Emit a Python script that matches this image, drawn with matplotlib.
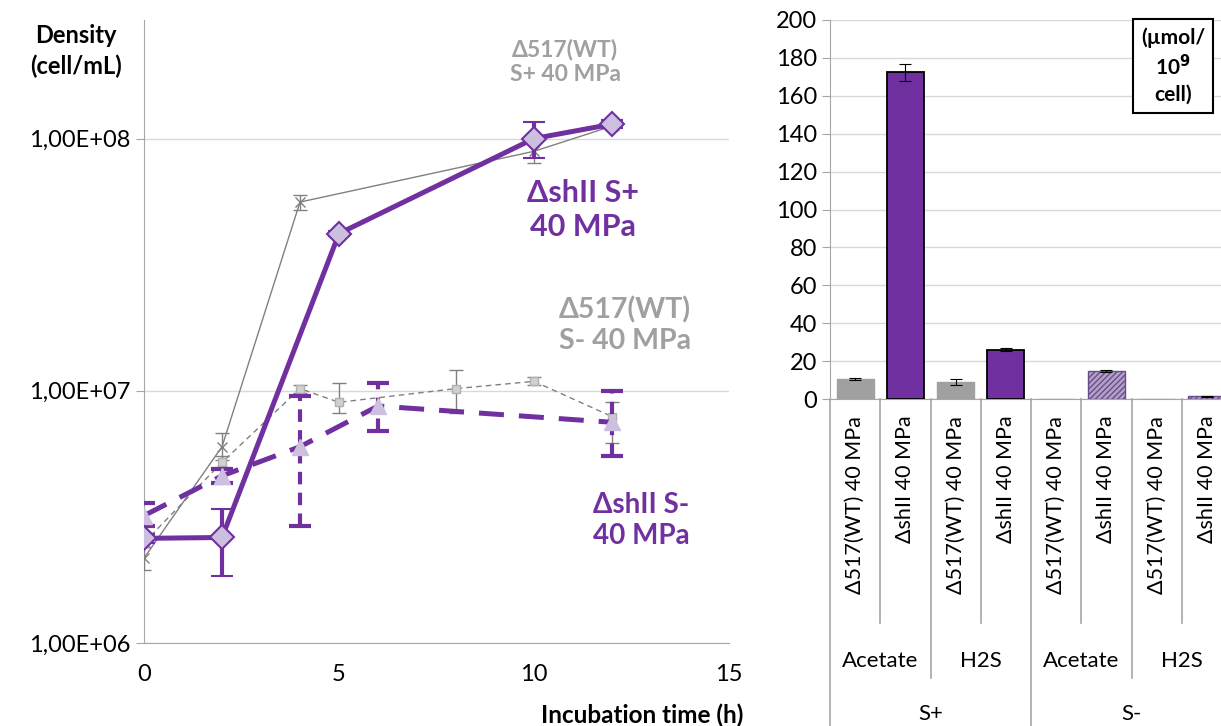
import numpy as np
import matplotlib
matplotlib.use("Agg")
import matplotlib.pyplot as plt
import matplotlib.transforms as mtrans
from matplotlib.ticker import FixedLocator, FixedFormatter, NullLocator

plt.rcParams['font.family'] = ['Lato', 'DejaVu Sans']

# growth curves (cells/mL)
t_wt_sp = [0, 2, 4, 10, 12]
wt_sp = [2.17e6, 6.0e6, 5.6e7, 8.9e7, 1.12e8]
wt_sp_lo = [1.95e6, 5.3e6, 5.2e7, 8.0e7, 1.08e8]
wt_sp_hi = [2.4e6, 6.8e6, 5.95e7, 9.7e7, 1.16e8]

t_sh_sp = [0, 2, 5, 10, 12]
sh_sp = [2.6e6, 2.62e6, 4.2e7, 1.0e8, 1.14e8]
sh_sp_lo = [2.5e6, 1.85e6, 4.1e7, 8.4e7, 1.1e8]
sh_sp_hi = [2.7e6, 3.4e6, 4.3e7, 1.16e8, 1.18e8]

t_wt_sm = [0, 2, 4, 5, 8, 10, 12]
wt_sm = [2.5e6, 5.2e6, 1.02e7, 9.0e6, 1.02e7, 1.09e7, 7.9e6]
wt_sm_lo = [2.4e6, 5.0e6, 9.8e6, 8.2e6, 8.2e6, 1.05e7, 6.2e6]
wt_sm_hi = [2.6e6, 5.5e6, 1.05e7, 1.07e7, 1.21e7, 1.13e7, 9.0e6]

t_sh_sm = [0, 2, 4, 6, 12]
sh_sm = [3.2e6, 4.6e6, 6.0e6, 8.7e6, 7.5e6]
sh_sm_lo = [2.9e6, 4.3e6, 2.9e6, 6.9e6, 5.5e6]
sh_sm_hi = [3.6e6, 4.9e6, 9.5e6, 1.07e7, 1.0e7]

# metabolite production (umol / 1e9 cells)
bar_labels = ["Δ517(WT) 40 MPa", "ΔshII 40 MPa"] * 4
bar_vals = [10.5, 172.5, 9.0, 26.0, 0.0, 15.0, 0.0, 1.5]
bar_err = [0.4, 4.5, 1.5, 0.8, 0.0, 0.5, 0.0, 0.3]
compounds = ["Acetate", "H2S", "Acetate", "H2S"]
conditions = ["S+", "S-"]

purple = "#7030A0"
lilac = "#CDBFE0"
grey = "#808080"
lgrey = "#A0A0A0"

W, H = 1221, 726
fig = plt.figure(figsize=(W / 100, H / 100), dpi=100)


def err(v, lo, hi):
    v = np.array(v)
    return [v - np.array(lo), np.array(hi) - v]


ax = fig.add_axes([144 / W, (H - 643) / H, 585 / W, 623 / H])
ax.set_yscale("log")
ax.set_xlim(0, 15)
ax.set_ylim(1e6, 10 ** 8.47)

ax.errorbar(t_wt_sp, wt_sp, yerr=err(wt_sp, wt_sp_lo, wt_sp_hi), color=grey, lw=1,
            marker="x", ms=7, mec=grey, ecolor=grey, elinewidth=1, capsize=5, zorder=3)
ax.errorbar(t_wt_sm, wt_sm, yerr=err(wt_sm, wt_sm_lo, wt_sm_hi), color=grey, lw=1, ls=(0, (4, 3)),
            marker="s", ms=6, mfc="#D0D0D0", mec="#B0B0B0", ecolor=grey, elinewidth=1, capsize=5, zorder=3)
e1 = ax.errorbar(t_sh_sm, sh_sm, yerr=err(sh_sm, sh_sm_lo, sh_sm_hi), color=purple, lw=3.6, ls=(0, (5, 3)),
                 marker="^", ms=12, mfc=lilac, mec=lilac, ecolor=purple, elinewidth=3, capsize=8,
                 capthick=3, zorder=4)
e1[2][0].set_linestyle((0, (3, 2)))
ax.errorbar(t_sh_sp, sh_sp, yerr=err(sh_sp, sh_sp_lo, sh_sp_hi), color=purple, lw=3.6,
            marker="D", ms=12, mfc=lilac, mec=purple, mew=1.5, ecolor=purple, elinewidth=3, capsize=8,
            capthick=3, zorder=5)

for s in ["top", "right"]:
    ax.spines[s].set_visible(False)
for s in ["left", "bottom"]:
    ax.spines[s].set_color("#A6A6A6")
ax.yaxis.set_major_locator(FixedLocator([1e6, 1e7, 1e8]))
ax.yaxis.set_major_formatter(FixedFormatter(["1,00E+06", "1,00E+07", "1,00E+08"]))
ax.yaxis.set_minor_locator(NullLocator())
ax.set_xticks([0, 5, 10, 15])
ax.tick_params(axis="x", length=0, labelsize=17, pad=15)
ax.tick_params(axis="y", length=6, color="#A6A6A6", labelsize=17)
ax.grid(axis="y", color="#D9D9D9", lw=1)
ax.set_axisbelow(True)

ax.text(0.7197, 0.9326, "Δ517(WT)\nS+ 40 MPa", transform=ax.transAxes, ha="center", va="center",
        color=lgrey, fontsize=16.5, fontweight="bold", linespacing=1.25)
ax.text(0.750, 0.695, "ΔshII S+\n40 MPa", transform=ax.transAxes, ha="center", va="center",
        color=purple, fontsize=22, fontweight="bold", linespacing=1.25)
ax.text(0.822, 0.510, "Δ517(WT)\nS- 40 MPa", transform=ax.transAxes, ha="center", va="center",
        color=lgrey, fontsize=20.5, fontweight="bold", linespacing=1.25)
ax.text(0.850, 0.197, "ΔshII S-\n40 MPa", transform=ax.transAxes, ha="center", va="center",
        color=purple, fontsize=20, fontweight="bold", linespacing=1.25)
fig.text(76 / W, 1 - 51 / H, "Density\n(cell/mL)", ha="center", va="center", fontsize=17,
         fontweight="bold", linespacing=1.35)
fig.text(743 / W, 1 - 715 / H, "Incubation time (h)", ha="right", va="center", fontsize=17.5,
         fontweight="bold")

# bar chart
bx = fig.add_axes([830 / W, (H - 399) / H, 402 / W, 379 / H])
x = np.arange(len(bar_vals))
styles = [
    dict(color=lgrey, edgecolor=lgrey),
    dict(color=purple, edgecolor="black", linewidth=1.3),
] * 2 + [
    dict(color=lgrey, edgecolor=lgrey),
    dict(color="#B3A2C7", edgecolor="#6A4C8C", hatch="//////", linewidth=1),
    dict(color=lgrey, edgecolor=lgrey),
    dict(color="#B3A2C7", edgecolor="#6A4C8C", hatch="//////", linewidth=1),
]
for i in range(len(bar_vals)):
    bx.bar(x[i], bar_vals[i], width=0.74, zorder=3, **styles[i])
    if bar_vals[i] > 0:
        bx.errorbar(x[i], bar_vals[i], yerr=bar_err[i], color="black", lw=0.8, capsize=4,
                    capthick=0.8, zorder=4)
bx.set_xlim(-0.5, 7.5)
bx.set_ylim(0, 200)
bx.set_yticks(np.arange(0, 201, 20))
bx.tick_params(axis="y", length=6, color="#A6A6A6", labelsize=17)
bx.grid(axis="y", color="#D9D9D9", lw=1)
bx.set_axisbelow(True)
for s in ["top", "right"]:
    bx.spines[s].set_visible(False)
for s in ["left", "bottom"]:
    bx.spines[s].set_color("#A6A6A6")
bx.set_xticks(x)
bx.set_xticklabels(bar_labels, rotation=90, fontsize=15.5)
bx.tick_params(axis="x", length=0, pad=12)

tr = mtrans.blended_transform_factory(bx.transData, bx.transAxes)
sep_short = -(623 - 399) / 379
sep_mid = -(678 - 399) / 379
sep_long = -(740 - 399) / 379
for i in range(9):
    xs = i - 0.5
    if i % 4 == 0:
        y0 = sep_long
    elif i % 2 == 0:
        y0 = sep_mid
    else:
        y0 = sep_short
    bx.plot([xs, xs], [0, y0], transform=tr, color="#A6A6A6", lw=1.2, clip_on=False)
for j, c in enumerate(compounds):
    bx.text(2 * j + 0.5, -(661 - 399) / 379, c, transform=tr, ha="center", va="center", fontsize=16)
for j, c in enumerate(conditions):
    bx.text(4 * j + 1.5, -(714 - 399) / 379, c, transform=tr, ha="center", va="center", fontsize=16)

fig.text(1173 / W, 1 - 66 / H, "(µmol/\n10$^{\\mathbf{9}}$\ncell)", ha="center", va="center",
         fontsize=15, fontweight="bold", linespacing=1.3,
         bbox=dict(boxstyle="square,pad=0.4", fc="white", ec="black", lw=1.5))

fig.savefig("out.png", dpi=100)
